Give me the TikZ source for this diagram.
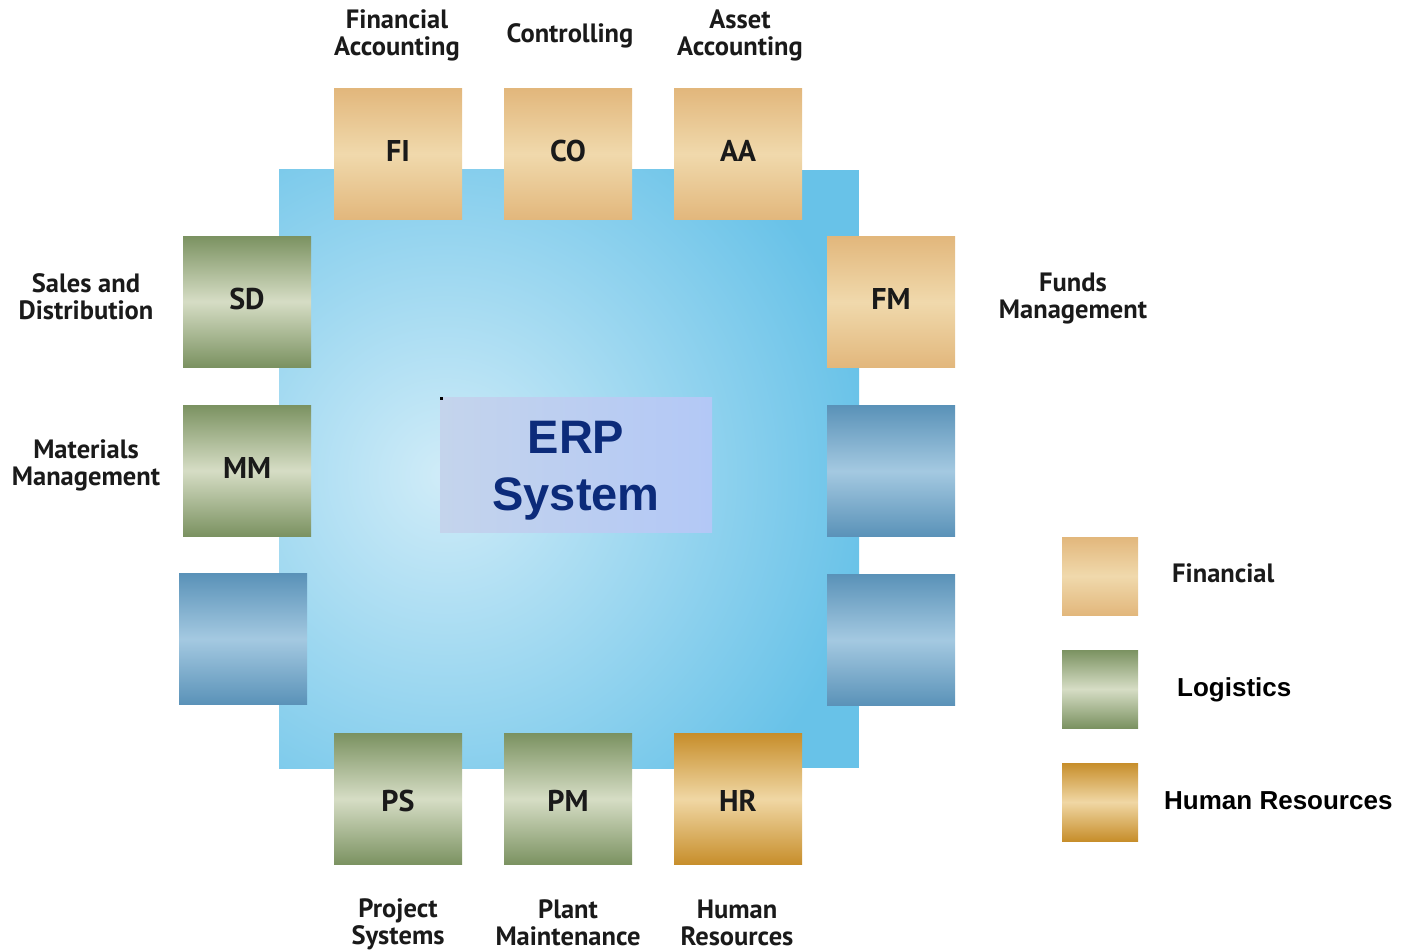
\documentclass[tikz,border=0pt]{standalone}
\usepackage{fontspec}
\setmainfont{Liberation Sans}
\newfontfamily\labelfont{PT Sans}
\definecolor{tanOut}{HTML}{E2B77C}
\definecolor{tanIn}{HTML}{F0D9AC}
\definecolor{grnOut}{HTML}{7B9261}
\definecolor{grnIn}{HTML}{D6DDC5}
\definecolor{bluOut}{HTML}{5A92B8}
\definecolor{bluIn}{HTML}{A4C9E1}
\definecolor{hrOut}{HTML}{C78E2B}
\definecolor{hrIn}{HTML}{F0D7A4}
\definecolor{coreOut}{HTML}{68C2E8}
\definecolor{coreIn}{HTML}{D0ECF8}
\definecolor{erpL}{HTML}{C4D4EC}
\definecolor{erpR}{HTML}{B3C8F6}
\definecolor{erpText}{HTML}{0C2B7A}
\definecolor{ink}{HTML}{1A1A1A}
\begin{document}
\begin{tikzpicture}[x=1pt,y=-1pt,
  module/.style={minimum width=128pt,minimum height=131pt,inner sep=0pt,
    text depth=6pt,
    font=\labelfont\bfseries\fontsize{30}{32}\selectfont,text=ink},
  lowrow/.style={text depth=0pt,text height=25pt},
  fin/.style={module,top color=tanOut,bottom color=tanOut,middle color=tanIn},
  logi/.style={module,top color=grnOut,bottom color=grnOut,middle color=grnIn},
  spare/.style={module,top color=bluOut,bottom color=bluOut,middle color=bluIn},
  hrm/.style={module,top color=hrOut,bottom color=hrOut,middle color=hrIn},
  caption/.style={align=center,text=ink,inner sep=1pt,
    font=\labelfont\bfseries\fontsize{26.5}{27}\selectfont},
  key/.style={minimum width=76pt,minimum height=78pt,inner sep=0pt},
  keytext/.style={anchor=west,inner sep=0pt,text=black,
    font=\bfseries\fontsize{26}{28}\selectfont}]
\useasboundingbox (0,0) rectangle (1404,952);

% central system area with a soft light spot
\begin{scope}
  \clip (279,170) rectangle (859,768);
  \fill[coreOut] (279,170) rectangle (859,768);
  \shade[inner color=coreIn,outer color=coreOut] (445,475) circle (430);
\end{scope}

% modules along the top
\node[fin] (fi) at (398,154) {FI};
\node[fin] (co) at (568,154) {CO};
\node[fin] (aa) at (738,154) {AA};
% modules on the left
\node[logi] (sd) at (247,301.5) {SD};
\node[logi] (mm) at (247,470.5) {MM};
\node[spare] (l3) at (243,639) {};
% modules on the right
\node[fin] (fm) at (891,302) {FM};
\node[spare] (r2) at (891,471) {};
\node[spare] (r3) at (891,640) {};
% modules along the bottom
\node[logi,lowrow] (ps) at (398,799) {PS};
\node[logi,lowrow] (pm) at (568,799) {PM};
\node[hrm,lowrow] (hr) at (738,799) {HR};

% module names
\node[caption] (tfi) at (397,35) {Financial\\Accounting};
\node[caption] (tco) at (570,36) {Controlling};
\node[caption] (taa) at (740,35) {Asset\\Accounting};
\node[caption] (tsd) at (86,297) {Sales and\\Distribution};
\node[caption] (tmm) at (86,465) {Materials\\Management};
\node[caption] (tfm) at (1073,299) {Funds\\Management};
\node[caption] (tps) at (398,924) {Project\\Systems};
\node[caption] (tpm) at (568,923) {Plant\\Maintenance};
\node[caption] (thr) at (737,923) {Human\\Resources};

% system title
\node[minimum width=272pt,minimum height=135pt,inner sep=0pt,
  left color=erpL,right color=erpR] (erp) at (576,464.5) {};
\node[text=erpText,align=center,inner sep=0pt,
  font=\bfseries\fontsize{47}{57}\selectfont] (erpt) at ([yshift=-6pt]erp.center) {ERP\\System};
\fill[black] (erp.north west) rectangle ++(3,3);

% legend
\node[key,top color=tanOut,bottom color=tanOut,middle color=tanIn] (kfin) at (1100,576) {};
\node[key,top color=grnOut,bottom color=grnOut,middle color=grnIn] (klog) at (1100,689) {};
\node[key,top color=hrOut,bottom color=hrOut,middle color=hrIn] (khr) at (1100,802) {};
\node[keytext,font=\labelfont\bfseries\fontsize{26.5}{27}\selectfont,text=ink] (lfin) at (1172,573) {Financial};
\node[keytext] (llog) at (1177,690) {Logistics};
\node[keytext] (lhr) at (1164,801) {Human Resources};
\end{tikzpicture}
\end{document}
